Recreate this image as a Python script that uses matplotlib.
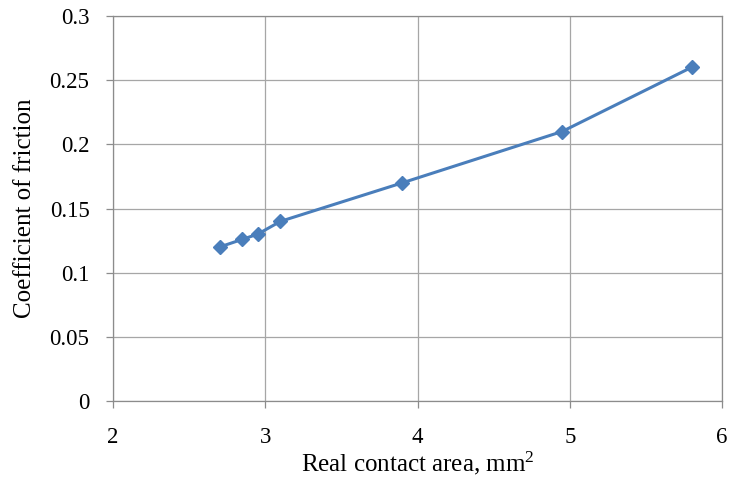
import matplotlib.pyplot as plt

area = [2.7, 2.85, 2.95, 3.1, 3.9, 4.95, 5.8]
friction = [0.12, 0.126, 0.13, 0.14, 0.17, 0.21, 0.26]
xticks = [2, 3, 4, 5, 6]
yticks = [0, 0.05, 0.1, 0.15, 0.2, 0.25, 0.3]
ytick_labels = ["0", "0.05", "0.1", "0.15", "0.2", "0.25", "0.3"]

plt.rcParams['font.family'] = ['Liberation Serif', 'DejaVu Serif']
plt.rcParams['mathtext.fontset'] = 'custom'
plt.rcParams['mathtext.rm'] = 'Liberation Serif'

fig = plt.figure(figsize=(7.31, 4.79), dpi=100)
ax = fig.add_axes([0.1546, 0.1628, 0.8331, 0.8038])

ax.plot(area, friction, color='#4a7ebb', linewidth=2.2,
        marker='D', markersize=7, markerfacecolor='#4a7ebb',
        markeredgecolor='#4a7ebb', zorder=3)

ax.set_xlim(2, 6)
ax.set_ylim(0, 0.3)
ax.set_xticks(xticks)
ax.set_yticks(yticks)
ax.set_yticklabels(ytick_labels)
ax.grid(True, color='#a6a6a6', linewidth=0.9)
ax.set_axisbelow(True)

for side in ['left', 'right', 'top', 'bottom']:
    ax.spines[side].set_color('#8c8c8c')
    ax.spines[side].set_linewidth(0.9)

ax.tick_params(axis='both', labelsize=16.5, color='#8c8c8c', length=5,
               width=0.9, direction='out')
ax.tick_params(axis='x', pad=14)
ax.tick_params(axis='y', pad=12)

ax.set_xlabel("Real contact area, mm$\\mathrm{^2}$", fontsize=18, labelpad=1)
ax.set_ylabel("Coefficient of friction", fontsize=18, labelpad=10)

fig.savefig("out.png", dpi=100)
